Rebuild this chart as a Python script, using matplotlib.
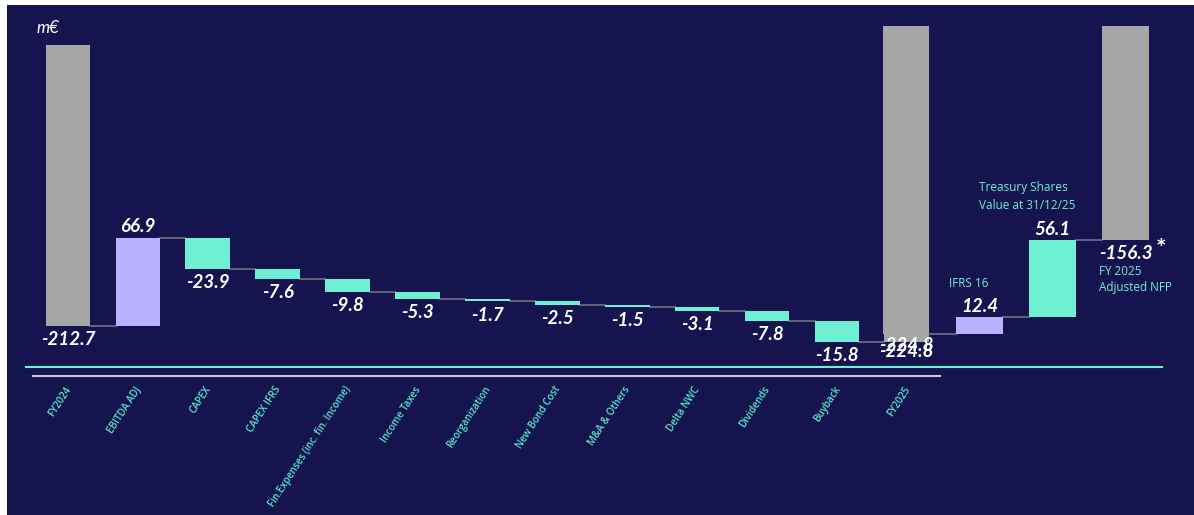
import numpy as np
import matplotlib.pyplot as plt
from matplotlib.patches import Rectangle

# main bridge: FY2024 -> FY2025
main_labels = ["FY2024", "EBITDA ADJ", "CAPEX", "CAPEX IFRS",
               "Fin.Expenses (inc. fin. Income)", "Income Taxes", "Reorganization",
               "New Bond Cost", "M&A & Others", "Delta NWC", "Dividends", "Buyback", "FY2025"]
main_deltas = [66.9, -23.9, -7.6, -9.8, -5.3, -1.7, -2.5, -1.5, -3.1, -7.8, -15.8]
fy2024 = -212.7
fy2025 = -224.8

# adjustment bridge: FY2025 -> adjusted NFP
adj_deltas = [12.4, 56.1]
adj_names = ["IFRS 16", "Treasury Shares\nValue at 31/12/25"]
adj_total = -156.3

NAVY = "#15144f"
GREY = "#a6a6a6"
LAV = "#b9b1ff"
TEAL = "#6ff0d3"
TICK_TEAL = "#55e6c8"
CONN = "#707088"

plt.rcParams['font.family'] = ['Lato', 'DejaVu Sans']

W, H = 1194, 515
fig = plt.figure(figsize=(W / 100, H / 100), dpi=100, facecolor="white")
fig.patches.append(Rectangle((7 / W, 0), 1 - 7 / W, 1 - 5 / H, transform=fig.transFigure,
                             facecolor=NAVY, edgecolor="none", zorder=-10))


def make_axes(x0, dx, y0, k):
    ax = fig.add_axes([0, 0, 1, 1])
    ax.set_xlim(-x0 / dx, (W - x0) / dx)
    ax.set_ylim(-(H - y0) / k, y0 / k)
    ax.axis("off")
    ax.patch.set_alpha(0)
    return ax


lbl = dict(color="white", fontsize=13.5, fontweight="bold", fontstyle="italic", ha="center")
bw = 0.64

# ---- left chart
ax = make_axes(68, 69.9, 45, 1.321)
ax.bar(0, fy2024, width=bw, color=GREY, zorder=2)
ax.text(0, fy2024 - 4, f"{fy2024:.1f}", va="top", **lbl)
level = fy2024
for i, d in enumerate(main_deltas, start=1):
    ax.plot([i - 1 + bw / 2, i - bw / 2], [level, level], color=CONN, lw=1.2, zorder=1)
    col = LAV if d > 0 else TEAL
    ax.bar(i, d, bottom=level, width=bw, color=col, zorder=2)
    new = level + d
    if d > 0:
        ax.text(i, new + 2, f"{d:.1f}", va="bottom", **lbl)
    else:
        ax.text(i, new - 4, f"{d:.1f}", va="top", **lbl)
    level = new
n = len(main_deltas) + 1
ax.plot([n - 1 + bw / 2, n - bw / 2], [level, level], color=CONN, lw=1.2, zorder=1)
ax.bar(n, fy2025, width=bw, color=GREY, zorder=2)
ax.text(n, fy2025 - 1, f"{fy2025:.1f}", va="top", **lbl)

for i, name in enumerate(main_labels):
    ax.text(i - 0.05, -257, name, rotation=57, ha="right", va="top", color=TICK_TEAL,
            fontsize=7.1, fontweight="semibold", family=["Open Sans", "DejaVu Sans"],
            rotation_mode="anchor")
ax.plot([-0.5, n + 0.48], [-250.5, -250.5], color="#c8c8d8", lw=1.5)

# ---- right chart
ax2 = make_axes(906, 73.3, 26, 1.372)
ax2.bar(0, fy2025, width=bw, color=GREY, zorder=2)
ax2.text(0, fy2025 - 2, f"{fy2025:.1f}", va="top", **lbl)
ax2.plot([-12.0, 3.49], [-248.5, -248.5], color=TEAL, lw=1.5)
level = fy2025
for i, (d, name) in enumerate(zip(adj_deltas, adj_names), start=1):
    ax2.plot([i - 1 + bw / 2, i - bw / 2], [level, level], color=CONN, lw=1.2, zorder=1)
    col = LAV if i == 1 else TEAL
    ax2.bar(i, d, bottom=level, width=bw, color=col, zorder=2)
    new = level + d
    ax2.text(i, new + 2, f"{d:.1f}", va="bottom", **lbl)
    if i == 1:
        ax2.text(i - 0.15, new + 20, name, ha="center", va="bottom", color=TEAL, fontsize=8.5,
                 family=["Open Sans", "DejaVu Sans"])
    else:
        ax2.text(i - 1.0, new + 21, name, ha="left", va="bottom", color=TEAL, fontsize=8.5,
                 family=["Open Sans", "DejaVu Sans"], linespacing=1.5)
    level = new
k = len(adj_deltas) + 1
ax2.plot([k - 1 + bw / 2, k - bw / 2], [level, level], color=CONN, lw=1.2, zorder=1)
ax2.bar(k, adj_total, width=bw, color=GREY, zorder=2)
ax2.text(k, adj_total - 3, f"{adj_total:.1f}", va="top", **lbl)
ax2.text(k + 0.4, adj_total + 2, "*", color="white", fontsize=18, fontweight="bold",
         ha="left", va="top")
ax2.text(k - 0.37, adj_total - 18, "FY 2025\nAdjusted NFP", ha="left", va="top", color=TEAL,
         fontsize=8.5, family=["Open Sans", "DejaVu Sans"], linespacing=1.3)

fig.text(37 / W, 1 - 28 / H, "m€", color="white", fontsize=12, fontstyle="italic",
         ha="left", va="center")

fig.savefig("out.png", dpi=100, facecolor=fig.get_facecolor())
